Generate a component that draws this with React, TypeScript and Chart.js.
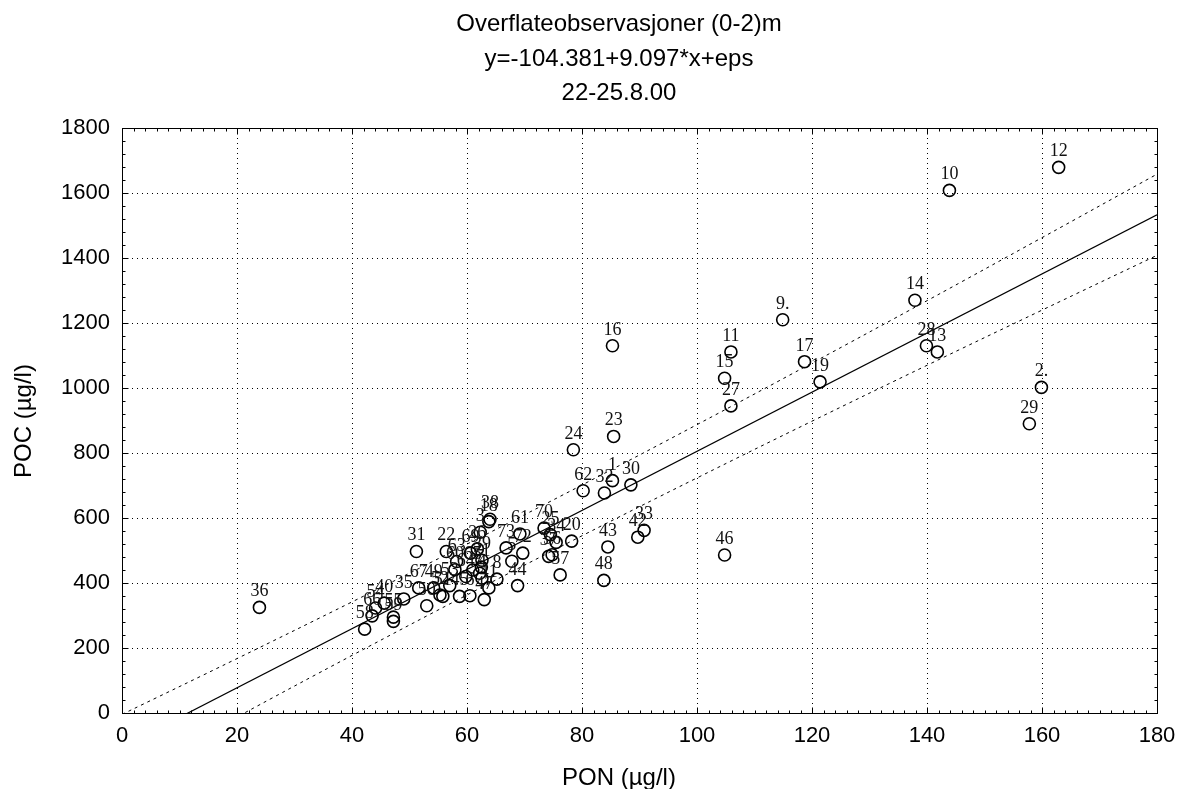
import React, { useEffect, useRef } from "react";
import { Chart, registerables } from "chart.js";

Chart.register(...registerables);

const titleLines = ["Overflateobservasjoner (0-2)m", "y=-104.381+9.097*x+eps", "22-25.8.00"];
const xAxisTitle = "PON (µg/l)";
const yAxisTitle = "POC (µg/l)";

const xTickValues = [0, 20, 40, 60, 80, 100, 120, 140, 160, 180];
const yTickValues = [0, 200, 400, 600, 800, 1000, 1200, 1400, 1600, 1800];

const pointIds = [
  "1", "2.", "3", "4", "5", "6", "7", "8", "9.", "10",
  "11", "12", "13", "14", "15", "16", "17", "18", "19", "20",
  "21", "22", "23", "24", "25", "26", "27", "28", "29", "30",
  "31", "32", "33", "34", "35", "36", "37", "38", "39", "40",
  "41", "42", "43", "44", "45", "46", "47", "48", "49", "50",
  "51", "52", "53", "54", "55", "56", "57", "58", "59", "60",
  "61", "62", "63", "64", "65", "66", "67", "69", "70", "72", "73",
];
const pon = [
  85.3, 159.9, 62.3, 62.6, 67.8, 60.5, 62.2, 65.2, 114.9, 143.9,
  105.9, 162.9, 141.8, 137.9, 104.8, 85.3, 118.7, 63.8, 121.4, 78.2,
  62.5, 56.4, 85.5, 78.5, 74.5, 61.8, 105.9, 139.9, 157.8, 88.5,
  51.2, 83.9, 90.8, 75.5, 49.0, 23.9, 74.2, 64.0, 62.6, 45.6,
  63.8, 89.7, 84.5, 68.8, 58.7, 104.8, 63.0, 83.8, 54.2, 53.0,
  55.8, 55.3, 57.0, 44.1, 47.2, 74.8, 76.2, 42.2, 47.2, 57.9,
  69.2, 80.2, 58.2, 59.8, 61.0, 43.5, 51.6, 60.6, 73.4, 69.7, 66.8,
];
const poc = [
  715, 1002, 556, 415, 467, 361, 430, 412, 1210, 1608,
  1111, 1679, 1111, 1270, 1030, 1130, 1081, 589, 1019, 529,
  449, 497, 851, 810, 549, 505, 945, 1130, 890, 702,
  497, 677, 562, 525, 351, 325, 482, 596, 470, 338,
  385, 541, 511, 392, 359, 486, 349, 408, 385, 330,
  359, 363, 392, 323, 295, 487, 425, 258, 282, 441,
  551, 684, 466, 420, 440, 299, 385, 492, 569, 492, 508,
];

// Regression line and confidence band
const fitX = [0, 180];
const fitY = [-104.4, 1533.1];
const bandX = [0, 20, 40, 60, 80, 100, 120, 140, 160, 180];
const bandUpper = [-4.4, 167.4, 341.8, 519.6, 701.5, 887.3, 1076.7, 1268.6, 1462.6, 1658.0];
const bandLower = [-204.4, -12.2, 177.2, 363.2, 545.3, 723.3, 897.9, 1069.8, 1239.6, 1408.2];

const W = 1179;
const H = 789;
const SANS = '"Liberation Sans", Arial, sans-serif';
const SERIF = '"Liberation Serif", "Times New Roman", serif';

const decorPlugin = {
  id: "decor",
  beforeDatasetsDraw(chart: any) {
    const { ctx, chartArea: a, scales } = chart;
    const x = scales.x;
    const y = scales.y;
    ctx.save();
    ctx.strokeStyle = "#000";
    ctx.lineWidth = 1;
    ctx.setLineDash([1, 4]);
    xTickValues.forEach((v) => {
      if (v <= x.min || v >= x.max) return;
      const px = Math.round(x.getPixelForValue(v)) + 0.5;
      ctx.beginPath();
      ctx.moveTo(px, a.top);
      ctx.lineTo(px, a.bottom);
      ctx.stroke();
    });
    yTickValues.forEach((v) => {
      if (v <= y.min || v >= y.max) return;
      const py = Math.round(y.getPixelForValue(v)) + 0.5;
      ctx.beginPath();
      ctx.moveTo(a.left, py);
      ctx.lineTo(a.right, py);
      ctx.stroke();
    });
    ctx.restore();
  },
  afterDatasetsDraw(chart: any) {
    const { ctx, chartArea: a, scales } = chart;
    const x = scales.x;
    const y = scales.y;
    ctx.save();
    // point labels
    const meta = chart.getDatasetMeta(0);
    ctx.font = "18px " + SERIF;
    ctx.fillStyle = "#111";
    ctx.textAlign = "center";
    ctx.textBaseline = "alphabetic";
    meta.data.forEach((el: any, i: number) => {
      ctx.fillText(pointIds[i], el.x, el.y - 11);
    });
    // frame
    ctx.setLineDash([]);
    ctx.strokeStyle = "#000";
    ctx.lineWidth = 1;
    const l = Math.round(a.left) + 0.5;
    const r = Math.round(a.right) + 0.5;
    const t = Math.round(a.top) + 0.5;
    const b = Math.round(a.bottom) + 0.5;
    ctx.strokeRect(l, t, r - l, b - t);
    // inward ticks
    const xMinor = 2;
    const yMinor = 40;
    ctx.beginPath();
    for (let v = x.min; v <= x.max + 1e-6; v += xMinor) {
      const major = Math.abs(v / 20 - Math.round(v / 20)) < 1e-6;
      const len = major ? 6 : 3;
      const px = Math.round(x.getPixelForValue(v)) + 0.5;
      ctx.moveTo(px, b);
      ctx.lineTo(px, b - len);
      ctx.moveTo(px, t);
      ctx.lineTo(px, t + len);
    }
    for (let v = y.min; v <= y.max + 1e-6; v += yMinor) {
      const major = Math.abs(v / 200 - Math.round(v / 200)) < 1e-6;
      const len = major ? 6 : 3;
      const py = Math.round(y.getPixelForValue(v)) + 0.5;
      ctx.moveTo(l, py);
      ctx.lineTo(l + len, py);
      ctx.moveTo(r, py);
      ctx.lineTo(r - len, py);
    }
    ctx.stroke();
    ctx.restore();
  },
  afterDraw(chart: any) {
    const { ctx } = chart;
    ctx.save();
    ctx.fillStyle = "#000";
    ctx.textAlign = "center";
    ctx.textBaseline = "alphabetic";
    ctx.font = "24px " + SANS;
    const baselines = [31, 66, 100];
    titleLines.forEach((s, i) => ctx.fillText(s, 619, baselines[i]));
    ctx.fillText(xAxisTitle, 619, 785);
    ctx.translate(31, 421);
    ctx.rotate(-Math.PI / 2);
    ctx.fillText(yAxisTitle, 0, 0);
    ctx.restore();
  },
};

export default function App() {
  const ref = useRef<HTMLCanvasElement | null>(null);
  useEffect(() => {
    if (!ref.current) return;
    const points = pon.map((v, i) => ({ x: v, y: poc[i] }));
    const chart = new Chart(ref.current, {
      type: "scatter",
      data: {
        datasets: [
          {
            data: points,
            pointStyle: "circle",
            pointRadius: 6,
            pointHoverRadius: 6,
            pointBorderWidth: 1.6,
            borderColor: "#000",
            backgroundColor: "rgba(0,0,0,0)",
            showLine: false,
          },
          {
            data: fitX.map((v, i) => ({ x: v, y: fitY[i] })),
            showLine: true,
            pointRadius: 0,
            borderColor: "#000",
            borderWidth: 1.2,
          },
          {
            data: bandX.map((v, i) => ({ x: v, y: bandUpper[i] })),
            showLine: true,
            pointRadius: 0,
            borderColor: "#000",
            borderWidth: 1,
            borderDash: [3, 4],
            tension: 0.4,
          },
          {
            data: bandX.map((v, i) => ({ x: v, y: bandLower[i] })),
            showLine: true,
            pointRadius: 0,
            borderColor: "#000",
            borderWidth: 1,
            borderDash: [3, 4],
            tension: 0.4,
          },
        ],
      },
      options: {
        responsive: false,
        animation: false,
        devicePixelRatio: 1,
        layout: { padding: { top: 128, right: 22, left: 0, bottom: 0 } },
        plugins: {
          legend: { display: false },
          tooltip: { enabled: false },
          title: { display: false },
        },
        events: [],
        scales: {
          x: {
            type: "linear",
            min: 0,
            max: 180,
            afterFit: (s: any) => {
              s.height = 76;
              s.paddingLeft = 0;
              s.paddingRight = 0;
            },
            afterBuildTicks: (s: any) => {
              s.ticks = xTickValues.map((v) => ({ value: v }));
            },
            ticks: {
              color: "#000",
              font: { family: SANS, size: 22 },
              padding: 10,
              maxRotation: 0,
              autoSkip: false,
              callback: (v: any) => String(v),
            },
            grid: { display: false, drawTicks: false },
            border: { display: false },
          },
          y: {
            type: "linear",
            min: 0,
            max: 1800,
            afterFit: (s: any) => {
              s.width = 122;
              s.paddingTop = 0;
              s.paddingBottom = 0;
            },
            afterBuildTicks: (s: any) => {
              s.ticks = yTickValues.map((v) => ({ value: v }));
            },
            ticks: {
              color: "#000",
              font: { family: SANS, size: 22 },
              padding: 12,
              autoSkip: false,
              callback: (v: any) => String(v),
            },
            grid: { display: false, drawTicks: false },
            border: { display: false },
          },
        },
      },
      plugins: [decorPlugin],
    } as any);
    return () => chart.destroy();
  }, []);
  return (
    <div style={{ position: "fixed", left: 0, top: 0, width: W, height: H, background: "#fff" }}>
      <canvas ref={ref} width={W} height={H} style={{ display: "block" }} />
    </div>
  );
}
